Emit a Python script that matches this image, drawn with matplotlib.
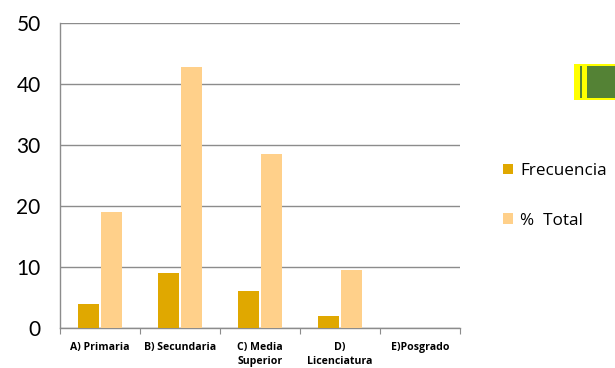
import matplotlib
matplotlib.use("Agg")
import matplotlib.pyplot as plt
import numpy as np
from matplotlib.patches import Rectangle

categories = ["A) Primaria", "B) Secundaria", "C) Media\nSuperior", "D)\nLicenciatura", "E)Posgrado"]
frecuencia = [4, 9, 6, 2, 0]
pct_total = [19.05, 42.86, 28.57, 9.52, 0]
yticks = [0, 10, 20, 30, 40, 50]

W, H = 615, 368
fig = plt.figure(figsize=(W/100, H/100), dpi=100)
ax = fig.add_axes([60/W, 1-328/H, 400/W, 305/H])

x = np.arange(len(categories))
bw = 0.27
ax.bar(x - 0.135 - 0.01, frecuencia, width=bw, color="#E0A800", zorder=3, label="Frecuencia")
ax.bar(x + 0.135 + 0.01, pct_total, width=bw, color="#FFD08A", zorder=3, label="%  Total")

ax.set_xlim(-0.5, 4.5)
ax.set_ylim(0, 50)
ax.set_yticks(yticks)
ax.set_yticklabels([str(v) for v in yticks], fontsize=15, family="Lato")
ax.yaxis.grid(True, color="#8c8c8c", linewidth=1.0, zorder=0)
ax.tick_params(axis="y", length=0, pad=14)

ax.set_xticks(np.arange(-0.5, 5, 1), minor=False)
ax.set_xticklabels([])
ax.set_xticks(x, minor=True)
ax.set_xticklabels(categories, minor=True, fontsize=7.6, fontweight="bold", family="Open Sans", linespacing=1.45)
ax.tick_params(axis="x", which="major", length=4, color="#8c8c8c", direction="out")
ax.tick_params(axis="x", which="minor", length=0, pad=10)
for lab in ax.get_xticklabels(minor=True):
    lab.set_verticalalignment("top")

for s in ["top", "right"]:
    ax.spines[s].set_visible(False)
ax.spines["left"].set_color("#8c8c8c")
ax.spines["bottom"].set_color("#8c8c8c")
ax.spines["left"].set_linewidth(1.0)
ax.spines["bottom"].set_linewidth(1.0)

# legend
leg = fig.legend(loc="upper left", bbox_to_anchor=(488/W, 1-148/H), frameon=False,
                 prop={"family": "Open Sans", "size": 12.3}, handlelength=0.55, handleheight=0.55,
                 handletextpad=0.45, labelspacing=1.95)

# decorative green box at upper right
fig.patches.append(Rectangle((574/W, 1-100/H), 45/W, 36/H, transform=fig.transFigure,
                             facecolor="#FFFF00", edgecolor="none", zorder=5))
fig.patches.append(Rectangle((580/W, 1-98/H), 2/W, 32/H, transform=fig.transFigure,
                             facecolor="#548235", edgecolor="none", zorder=6))
fig.patches.append(Rectangle((587/W, 1-98/H), 30/W, 32/H, transform=fig.transFigure,
                             facecolor="#548235", edgecolor="none", zorder=6))

fig.savefig("out.png", dpi=100)
